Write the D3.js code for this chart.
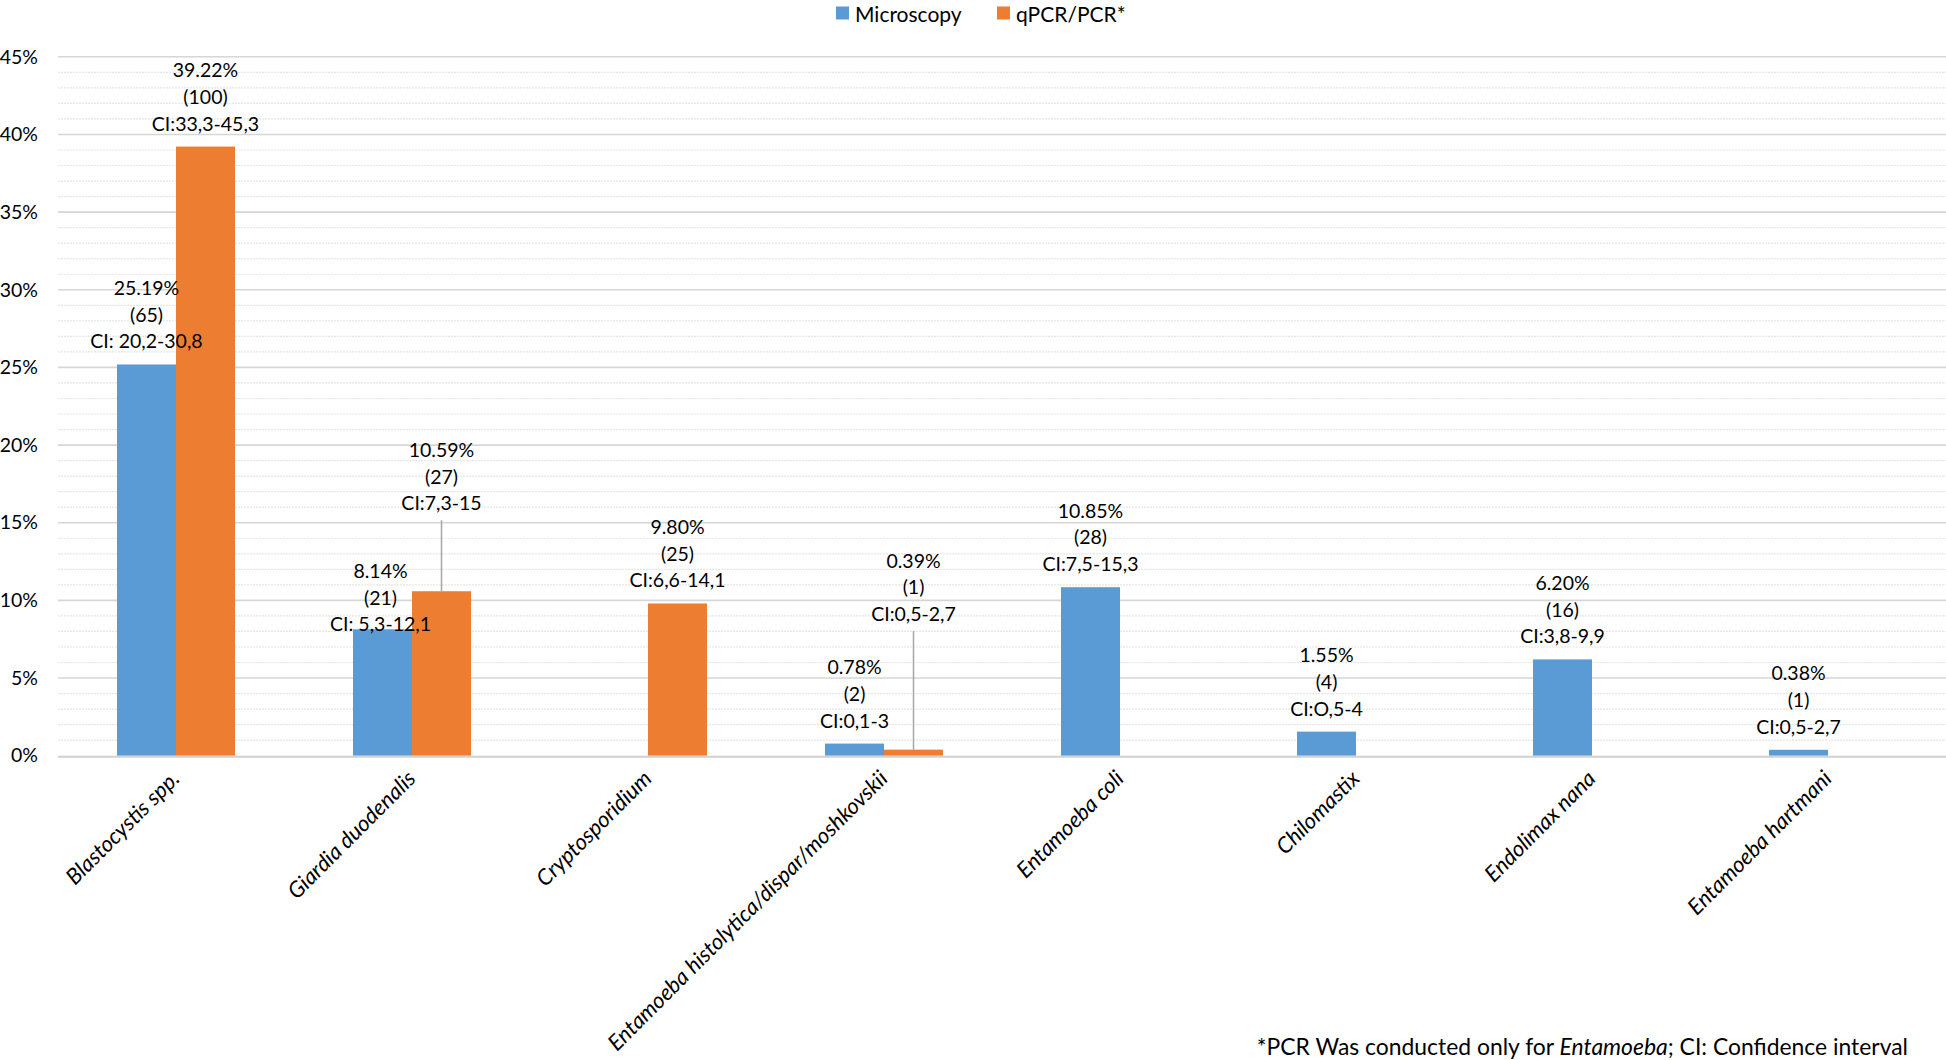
<!DOCTYPE html>
<html><head><meta charset="utf-8">
<script src="https://cdn.jsdelivr.net/npm/d3@7"></script>
<style>
body{margin:0;background:#fff;}
svg{display:block;}
text{font-family:Lato,"Open Sans",sans-serif;fill:#000;}
</style>
</head><body>
<svg id="chart" width="1946" height="1060"></svg>
<script>
// ---- data ----
const categories = ["Blastocystis spp.","Giardia duodenalis","Cryptosporidium","Entamoeba histolytica/dispar/moshkovskii","Entamoeba coli","Chilomastix","Endolimax nana","Entamoeba hartmani"];
const seriesNames = ["Microscopy","qPCR/PCR*"];
const seriesColors = ["#5B9BD5","#ED7D31"];
const microscopyValues = [25.19, 8.14, null, 0.78, 10.85, 1.55, 6.20, 0.38];
const microscopyCounts = [65, 21, null, 2, 28, 4, 16, 1];
const microscopyCI = ["CI: 20,2-30,8","CI: 5,3-12,1",null,"CI:0,1-3","CI:7,5-15,3","CI:O,5-4","CI:3,8-9,9","CI:0,5-2,7"];
const pcrValues = [39.22, 10.59, 9.80, 0.39, null, null, null, null];
const pcrCounts = [100, 27, 25, 1, null, null, null, null];
const pcrCI = ["CI:33,3-45,3","CI:7,3-15","CI:6,6-14,1","CI:0,5-2,7",null,null,null,null];
const yTicks = [0,5,10,15,20,25,30,35,40,45];
const yMinorTicks = d3.range(0,46,1).filter(v => v % 5 !== 0);
const footnoteParts = [["*PCR Was conducted only for ", false],["Entamoeba", true],["; CI: Confidence interval", false]];

// label layout (pixel lift of the last label line above bar top; leader line flag)
const labelLayout = {"0-1": {lift: -2, dx: -2}, "1-1": {lift: 81, leader: true}, "1-3": {lift: 128.5, leader: true}};

// ---- layout ----
const svg = d3.select("#chart");
const plotLeft = 58, plotRight = 1946, plotTop = 56.8, plotBottom = 755.7;

const x = d3.scaleBand().domain(categories).range([plotLeft, plotRight]).paddingInner(0.5).paddingOuter(0.25);
const xs = d3.scaleBand().domain(seriesNames).range([0, x.bandwidth()]);
const y = d3.scaleLinear().domain([0, 45]).range([plotBottom, plotTop]);

// minor gridlines
svg.append("g").selectAll("line").data(yMinorTicks).join("line")
  .attr("x1", plotLeft).attr("x2", plotRight)
  .attr("y1", d => y(d)).attr("y2", d => y(d))
  .attr("stroke", "#e6e6e6").attr("stroke-width", 1.2).attr("stroke-dasharray", "2,1");

// major gridlines
svg.append("g").selectAll("line").data(yTicks.filter(d => d > 0)).join("line")
  .attr("x1", plotLeft).attr("x2", plotRight)
  .attr("y1", d => y(d)).attr("y2", d => y(d))
  .attr("stroke", "#d6d6d6").attr("stroke-width", 1.6);

// y axis labels
const yAxis = d3.axisLeft(y).tickValues(yTicks).tickFormat(d => d + "%").tickSize(0).tickPadding(0);
const yg = svg.append("g").attr("transform", `translate(38,0)`).call(yAxis);
yg.select(".domain").remove();
yg.selectAll("text").attr("font-family", "Lato, sans-serif").attr("font-size", 19.5).attr("fill", "#000");

// bars
const series = [
  {name: seriesNames[0], values: microscopyValues, counts: microscopyCounts, ci: microscopyCI, color: seriesColors[0], idx: 0},
  {name: seriesNames[1], values: pcrValues, counts: pcrCounts, ci: pcrCI, color: seriesColors[1], idx: 1}
];
const barData = [];
series.forEach(s => categories.forEach((c, i) => {
  if (s.values[i] != null) barData.push({cat: c, ci: i, s: s, v: s.values[i], n: s.counts[i], civ: s.ci[i]});
}));

svg.append("g").selectAll("rect").data(barData).join("rect")
  .attr("x", d => x(d.cat) + xs(d.s.name))
  .attr("width", xs.bandwidth())
  .attr("y", d => y(d.v))
  .attr("height", d => y(0) - y(d.v))
  .attr("fill", d => d.s.color);

// x axis baseline
svg.append("line").attr("x1", plotLeft).attr("x2", plotRight).attr("y1", y(0)+1).attr("y2", y(0)+1)
  .attr("stroke", "#d0d0d0").attr("stroke-width", 2);

// data labels
const lineH = 26.7;
const lg = svg.append("g");
barData.forEach(d => {
  const key = d.s.idx + "-" + d.ci;
  const lay = labelLayout[key] || {lift: 16};
  const cx = x(d.cat) + xs(d.s.name) + xs.bandwidth()/2 + (lay.dx || 0);
  const last = y(d.v) - lay.lift;
  const lines = [d.v.toFixed(2) + "%", "(" + d.n + ")", d.civ];
  lines.forEach((t, k) => {
    lg.append("text").attr("x", cx).attr("y", last - (2-k)*lineH)
      .attr("text-anchor", "middle").attr("font-size", 19.5).text(t);
  });
  if (lay.leader) {
    lg.append("line").attr("x1", cx).attr("x2", cx).attr("y1", last + 10).attr("y2", y(d.v))
      .attr("stroke", "#a6a6a6").attr("stroke-width", 1.5);
  }
});

// x axis labels
svg.append("g").selectAll("text").data(categories).join("text")
  .attr("transform", d => `translate(${x(d) + x.bandwidth()/2 + 5},780) rotate(-45)`)
  .attr("text-anchor", "end").attr("font-style", "italic").attr("font-size", 22)
  .text(d => d);

// legend
const leg = svg.append("g");
const legX = [836, 997];
seriesNames.forEach((s, i) => {
  leg.append("rect").attr("x", legX[i]).attr("y", 6.5).attr("width", 13).attr("height", 13).attr("fill", seriesColors[i]);
  leg.append("text").attr("x", legX[i] + 19).attr("y", 21.5).attr("font-size", 21).text(s);
});

// footnote
const fn = svg.append("text").attr("x", 1908).attr("y", 1055).attr("text-anchor", "end").attr("font-size", 22.9);
footnoteParts.forEach(p => fn.append("tspan").attr("font-style", p[1] ? "italic" : "normal").text(p[0]));
</script>
</body></html>
